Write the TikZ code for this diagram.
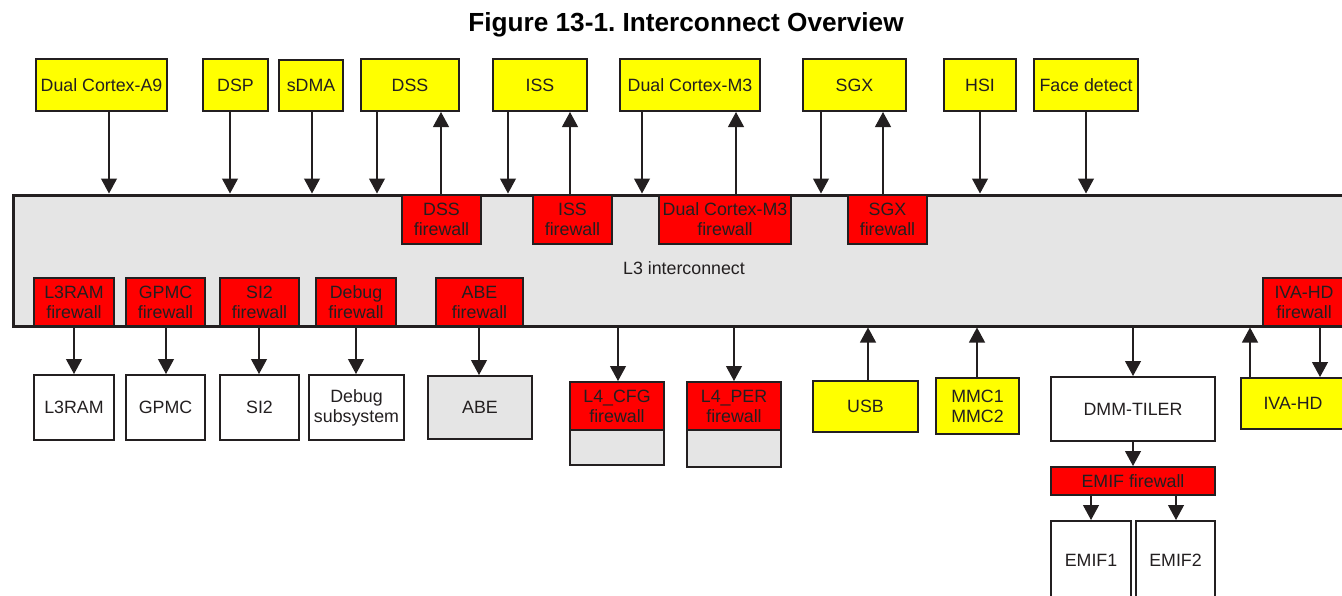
\documentclass[tikz,border=0pt]{standalone}
\usepackage{fontspec}
\setmainfont{Liberation Sans}
\usetikzlibrary{arrows.meta}
\definecolor{Ink}{HTML}{231F20}
\definecolor{Chip}{HTML}{FFFF00}
\definecolor{Guard}{HTML}{FF0000}
\definecolor{Bus}{HTML}{E5E5E5}
\tikzset{
 every node/.style={font=\fontsize{8.9}{10}\selectfont,text=Ink,align=center,inner sep=0pt},
 arr/.style={-{Triangle[length=7.5pt,width=8pt]},line width=.55pt,draw=Ink},
 blk/.style={draw=Ink,line width=1pt},
 ip/.style={blk,fill=Chip},
 fw/.style={blk,fill=Guard},
 mem/.style={blk,fill=white},
 grey/.style={blk,fill=Bus},
 }
% box from corner (x1,y1) to (x2,y2), pixel units
\newcommand{\mkblk}[7]{\node[#1,minimum width={(#5-#3)*.5pt},minimum height={(#6-#4)*.5pt}] (#2) at ({(#3+#5)/2},{(#4+#6)/2}) {#7};}
\newcommand{\dnarr}[3]{\draw[arr] (#1.south -| #3,0) -- (#2.north -| #3,0);}
\newcommand{\uparr}[3]{\draw[arr] (#1.north -| #3,0) -- (#2.south -| #3,0);}

\begin{document}
\frenchspacing
\begin{tikzpicture}[x=.5pt,y=-.5pt]
 \useasboundingbox (0,0) rectangle (1342,595);
 \clip (0,0) rectangle (1342,595);
 \node[font=\fontsize{13.1}{15}\selectfont\bfseries,text=black] (title) at (686,24.5) {Figure 13-1. Interconnect Overview};
 % interconnect
 \mkblk{grey,line width=1.5pt}{l3}{13}{195}{1360}{326}{}
 \node (l3txt) at (684,268) {L3 interconnect};
 % initiators
 \mkblk{ip}{a9}{36}{59}{167}{111}{Dual Cortex-A9}
 \mkblk{ip}{dsp}{203}{59}{268}{111}{DSP}
 \mkblk{ip}{sdma}{279}{60}{343}{111}{sDMA}
 \mkblk{ip}{dss}{361}{59}{459}{111}{DSS}
 \mkblk{ip}{iss}{493}{59}{587}{111}{ISS}
 \mkblk{ip}{m3}{620}{59}{760}{111}{Dual Cortex-M3}
 \mkblk{ip}{sgx}{803}{59}{906}{111}{SGX}
 \mkblk{ip}{hsi}{944}{59}{1016}{111}{HSI}
 \mkblk{ip}{face}{1034}{59}{1138}{111}{Face detect}
 % firewalls
 \mkblk{fw}{dssfw}{402}{195}{481}{244}{DSS\\firewall}
 \mkblk{fw}{issfw}{533}{195}{612}{244}{ISS\\firewall}
 \mkblk{fw}{m3fw}{659}{195}{791}{244}{Dual Cortex-M3\\firewall}
 \mkblk{fw}{sgxfw}{848}{195}{927}{244}{SGX\\firewall}
 \mkblk{fw}{l3ramfw}{34}{278}{114}{326}{L3RAM\\firewall}
 \mkblk{fw}{gpmcfw}{126}{278}{205}{326}{GPMC\\firewall}
 \mkblk{fw}{sitwofw}{220}{278}{299}{326}{SI2\\firewall}
 \mkblk{fw}{dbgfw}{316}{278}{396}{326}{Debug\\firewall}
 \mkblk{fw}{abefw}{436}{278}{523}{326}{ABE\\firewall}
 \mkblk{fw}{ivafw}{1263}{278}{1345}{326}{IVA-HD\\firewall}
 % targets
 \mkblk{mem}{l3ram}{34}{375}{114}{440}{L3RAM}
 \mkblk{mem}{gpmc}{126}{375}{205}{440}{GPMC}
 \mkblk{mem}{sitwo}{220}{375}{299}{440}{SI2}
 \mkblk{mem}{dbg}{309}{375}{404}{440}{Debug\\subsystem}
 \mkblk{grey}{abe}{428}{376}{532}{439}{ABE}
 \mkblk{fw}{l4cfgfw}{570}{382}{664}{430}{L4\_CFG\\firewall}
 \mkblk{grey}{l4cfg}{570}{430}{664}{465}{}
 \mkblk{fw}{l4perfw}{687}{382}{781}{430}{L4\_PER\\firewall}
 \mkblk{grey}{l4per}{687}{430}{781}{467}{}
 \mkblk{ip}{usb}{813}{381}{918}{432}{USB}
 \mkblk{ip}{mmc}{936}{378}{1019}{434}{MMC1\\MMC2}
 \mkblk{mem}{dmm}{1051}{377}{1215}{441}{DMM-TILER}
 \mkblk{fw}{emiffw}{1051}{467}{1215}{495}{EMIF firewall}
 \mkblk{mem}{emifone}{1051}{521}{1131}{600}{EMIF1}
 \mkblk{mem}{emiftwo}{1136}{521}{1215}{600}{EMIF2}
 \mkblk{ip}{iva}{1241}{378}{1345}{429}{IVA-HD}
 % arrows
 \dnarr{a9}{l3}{109}\dnarr{dsp}{l3}{230}\dnarr{sdma}{l3}{312}
 \dnarr{dss}{l3}{377}\dnarr{iss}{l3}{508}\dnarr{m3}{l3}{642}
 \dnarr{sgx}{l3}{821}\dnarr{hsi}{l3}{980}\dnarr{face}{l3}{1086}
 \uparr{dssfw}{dss}{441}\uparr{issfw}{iss}{570}
 \uparr{m3fw}{m3}{736}\uparr{sgxfw}{sgx}{883}
 \dnarr{l3ramfw}{l3ram}{74}\dnarr{gpmcfw}{gpmc}{166}
 \dnarr{sitwofw}{sitwo}{259}\dnarr{dbgfw}{dbg}{356}\dnarr{abefw}{abe}{479}
 \dnarr{l3}{l4cfgfw}{618}\dnarr{l3}{l4perfw}{734}
 \dnarr{l3}{dmm}{1133}\dnarr{dmm}{emiffw}{1133}
 \dnarr{emiffw}{emifone}{1091}\dnarr{emiffw}{emiftwo}{1176}
 \dnarr{ivafw}{iva}{1320}
 \uparr{usb}{l3}{868}\uparr{mmc}{l3}{977}\uparr{iva}{l3}{1250}
\end{tikzpicture}
\end{document}
